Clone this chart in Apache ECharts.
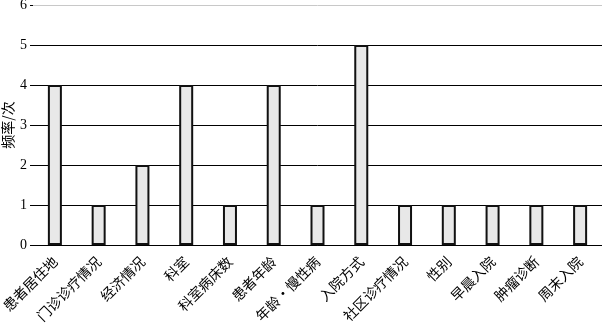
<!DOCTYPE html>
<html><head><meta charset="utf-8">
<script src="https://cdn.jsdelivr.net/npm/echarts@6/dist/echarts.min.js"></script>
<style>html,body{margin:0;padding:0;background:#fff}#c{width:602px;height:326px}</style>
</head><body><div id="c"></div>
<script>
const categories = ['患者居住地','门诊诊疗情况','经济情况','科室','科室病床数','患者年龄','年龄·慢性病','入院方式','社区诊疗情况','性别','早晨入院','肿瘤诊断','周末入院'];
const frequency = [4,1,2,4,1,4,1,5,1,1,1,1,1];
const yName = '频率/次';
const chart = echarts.init(document.getElementById('c'), null, {renderer:'canvas'});
chart.setOption({
  animation:false,
  backgroundColor:'#fff',
  grid:{left:33,right:0,top:5,bottom:81,containLabel:false,outerBoundsMode:'none'},
  xAxis:{
    type:'category', data:categories,
    axisLine:{show:true,lineStyle:{color:'#000',width:1}},
    axisTick:{show:false},
    axisLabel:{interval:0,rotate:45,margin:14,fontSize:14,color:'#000',fontFamily:'Noto Sans CJK SC'}
  },
  yAxis:{
    type:'value', min:0, max:6, interval:1,
    name:yName, nameLocation:'middle', nameGap:18, nameRotate:90, nameMoveOverlap:false,
    nameTextStyle:{fontSize:14,color:'#000',fontFamily:'Noto Sans CJK SC'},
    axisLine:{show:false},
    axisTick:{show:true,length:3,lineStyle:{color:'#000'}},
    axisLabel:{fontSize:14,color:'#000',fontFamily:'Liberation Serif',margin:6},
    splitLine:{show:true,lineStyle:{color:['#000','#000','#000','#000','#000','#000','#c8c8c8'],width:1}}
  },
  series:[{
    type:'bar', data:frequency, barWidth:14,
    itemStyle:{color:'#e8e8e8',borderColor:'#111',borderWidth:2}
  }]
});
</script></body></html>
